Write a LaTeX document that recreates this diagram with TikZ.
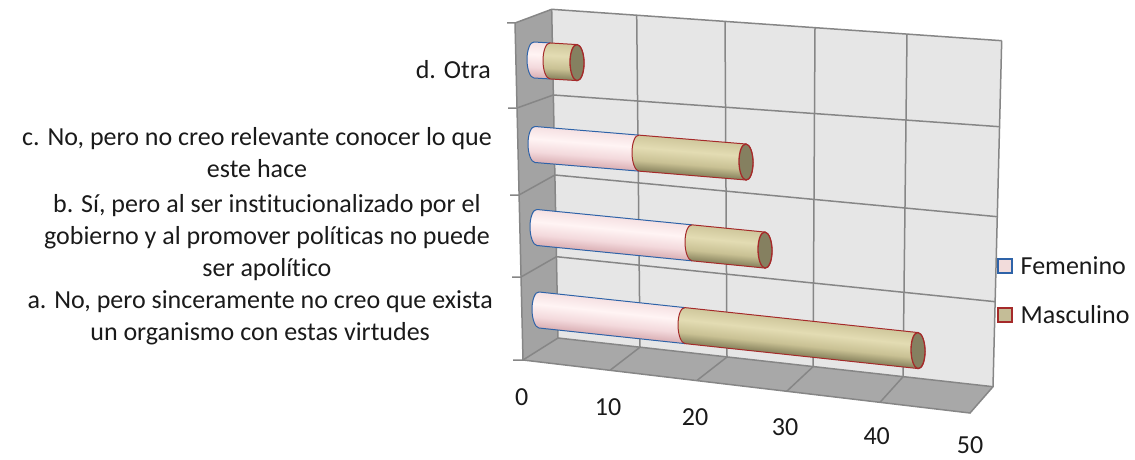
\documentclass[tikz,border=0pt]{standalone}
\usepackage{fontspec}
\setmainfont{Carlito}[Ligatures=NoCommon]
\usetikzlibrary{positioning}

\definecolor{txt}{HTML}{1A1A1A}
\definecolor{backwall}{HTML}{E6E6E6}
\definecolor{sidewall}{HTML}{A3A3A3}
\definecolor{floorcol}{HTML}{A8A8A8}
\definecolor{gridcol}{HTML}{868686}
\definecolor{femline}{HTML}{2E63A8}
\definecolor{masline}{HTML}{A52A2A}
\definecolor{femfill}{HTML}{F2DCDB}
\definecolor{masfill}{HTML}{C4BD97}
\definecolor{femlo}{HTML}{D9AEB3}
\definecolor{femmid}{HTML}{F3D9DC}
\definecolor{femhi}{HTML}{FFF4F4}
\definecolor{femtop}{HTML}{F5E0E2}
\definecolor{maslo}{HTML}{85805B}
\definecolor{masmid}{HTML}{C9C194}
\definecolor{mashi}{HTML}{E3DCB3}
\definecolor{mastop}{HTML}{CFC79C}
\definecolor{capcol}{HTML}{858060}

\pgfdeclareverticalshading{femcyl}{100bp}{color(0bp)=(femlo); color(25bp)=(femlo);
  color(40bp)=(femmid); color(58bp)=(femhi); color(75bp)=(femtop); color(100bp)=(femtop)}
\pgfdeclareverticalshading{mascyl}{100bp}{color(0bp)=(maslo); color(25bp)=(maslo);
  color(40bp)=(masmid); color(58bp)=(mashi); color(75bp)=(mastop); color(100bp)=(mastop)}

% #1,#2 left end, #3 length femenino, #4 total length, #5 slope
\newcommand\cilindro[5]{%
  \begin{scope}[transform canvas={shift={(#1,#2)},yslant=-#5}]
    \shade[shading=femcyl] (0,-18) arc[start angle=270,end angle=90,x radius=7,y radius=18]
      -- (#3,18) -- (#3,-18) -- cycle;
    \draw[femline,line width=1pt] (#3,-18) -- (0,-18)
      arc[start angle=270,end angle=90,x radius=7,y radius=18] -- (#3,18);
    \shadedraw[shading=mascyl,draw=masline,line width=1pt] (#3,-18) -- (#4,-18)
      arc[start angle=-90,end angle=90,x radius=7,y radius=18] -- (#3,18)
      arc[start angle=90,end angle=270,x radius=7,y radius=18] -- cycle;
    \draw[masline,fill=capcol,line width=1.3pt] (#4,0) ellipse[x radius=7,y radius=18];
  \end{scope}}

\begin{document}
\begin{tikzpicture}[x=1pt,y=-1pt]

      \tikzstyle{every node}=[inner sep=0pt,text=txt,font=\fontsize{26}{32}\selectfont]
      \tikzstyle{grid}=[draw=gridcol,line width=1.5pt]
      \tikzstyle{cat}=[anchor=east,align=center]
      \tikzstyle{legbox}=[draw,minimum size=14pt,line width=2pt]

      \useasboundingbox (0,0) rectangle (1135,460);

      % walls and floor
      \fill[backwall] (551.7,9.3) -- (1001.7,40.7) -- (993,386.7) -- (558,338) -- cycle;
      \fill[sidewall] (515,23) -- (551.7,9.3) -- (558,338) -- (523,360) -- cycle;
      \fill[floorcol] (523,360) -- (558,338) -- (993,386.7) -- (970,413) -- cycle;

      \foreach \xt/\yt/\xb/\yb/\xf/\yf in {636.7/15.2/640/347.2/610/370.3,
          725/21.4/727/357/696.7/380.6, 815/27.7/813/366.7/786.7/391.3,
          907/34.1/903/376.8/880/402.3}
        \draw[grid] (\xt,\yt) -- (\xb,\yb) -- (\xf,\yf);
      \foreach \yl/\xl/\yr/\xr/\yt/\xt in {95/553.3/126.7/999.5/108/517,
          175/554.9/216.7/997.3/195/519, 256.7/556.4/301.7/995.2/277/521}
        \draw[grid] (\xr,\yr) -- (\xl,\yl) -- (\xt,\yt) -- ++(-9,0);
      \draw[grid] (1001.7,40.7) -- (551.7,9.3) -- (515,23) -- ++(-8,0);
      \draw[grid] (515,23) -- (523,360) -- ++(-10,0);
      \draw[grid] (523,360) -- (970,413) -- (993,386.7) -- (1001.7,40.7);
      \draw[grid] (551.7,9.3) -- (558,338) -- (993,386.7);
      \draw[grid] (558,338) -- (523,360);

      % bars
      \cilindro{534}{60}{16}{43}{0.06}
      \cilindro{535}{144.5}{104}{211}{0.083}
      \cilindro{537}{227.5}{155}{228}{0.099}
      \cilindro{539}{310}{146}{379}{0.107}

      % category labels
      \node[cat] (catd) at (491,70) {d. Otra};
      \node[cat] (catc) at (492,152.5) {c. No, pero no creo relevante conocer lo que\\este hace};
      \node[cat] (catb) at (490,238) {b. Sí, pero al ser institucionalizado por el\\gobierno y al promover políticas no puede\\ser apolítico};
      \node[cat] (cata) at (493,318) {a. No, pero sinceramente no creo que exista\\un organismo con estas virtudes};

      % axis numbers
      \foreach \v/\x/\y in {0/521.7/396.7, 10/608/407, 20/695/417, 30/785/427,
          40/876.7/436, 50/970/445}
        \node (num\v) at (\x,\y) {\v};

      % legend
      \node[legbox,draw=femline,fill=femfill] (legfem) at (1004.5,265.5) {};
      \node[legbox,draw=masline,fill=masfill] (legmas) at (1004.5,314.5) {};
      \node[right=8pt of legfem] (txtfem) {Femenino};
      \node[right=8pt of legmas] (txtmas) {Masculino};

    \end{tikzpicture}
\end{document}
